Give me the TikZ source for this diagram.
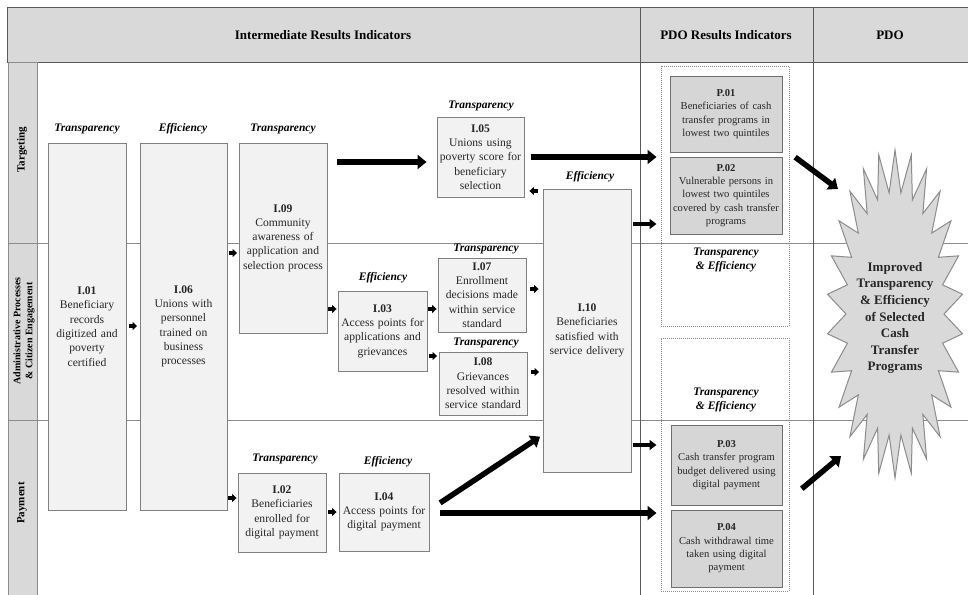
\documentclass[tikz,border=0pt]{standalone}
\usepackage{fontspec}
\setmainfont{Liberation Serif}
\usetikzlibrary{arrows.meta,calc}
\definecolor{hdr}{HTML}{D9D9D9}
\definecolor{boxfill}{HTML}{F2F2F2}
\definecolor{boxline}{HTML}{808080}
\definecolor{pfill}{HTML}{D6D6D6}
\definecolor{pline}{HTML}{6E6E6E}
\definecolor{gridc}{HTML}{8C8C8C}
\definecolor{darkc}{HTML}{5A5A5A}
\definecolor{textc}{HTML}{262626}
\begin{document}
\begin{tikzpicture}[x=1pt,y=-1pt,
  ibox/.style={draw=boxline, fill=boxfill, line width=0.9pt, inner sep=0.5pt, align=center, text=textc, font=\fontsize{11.6}{14.3}\selectfont},
  pbox/.style={draw=pline, fill=pfill, line width=1pt, inner sep=0.5pt, align=center, text=textc, font=\fontsize{10.6}{13.3}\selectfont},
  dbox/.style={draw=gridc, densely dotted, line width=1pt},
  cat/.style={font=\fontsize{11.5}{14}\selectfont\bfseries\itshape, align=center, inner sep=0pt},
  hdrtext/.style={font=\fontsize{13}{15}\selectfont\bfseries},
  rowtext/.style={rotate=90, align=center, font=\fontsize{11}{12}\selectfont\bfseries},
  sarr/.style={-{Triangle[length=4.5pt,width=8pt]}, line width=3.4pt, shorten <=#1, shorten >=#1},
  marr/.style={-{Triangle[length=7pt,width=10pt]}, line width=3.5pt},
  barr/.style={-{Triangle[length=9pt,width=14pt]}, line width=5.5pt},
  gridl/.style={draw=gridc, line width=0.9pt},
  divl/.style={draw=darkc, line width=1pt}]
\useasboundingbox (0,0) rectangle (968,594);
% header and grid
\fill[white] (0,0) rectangle (968,594);
\filldraw[fill=hdr, draw=darkc, line width=1pt] (7,8) rectangle (970,62);
\filldraw[fill=hdr, draw=gridc, line width=0.9pt] (8,62) rectangle (37,600);
\draw[gridl] (8,243) -- (970,243);
\draw[gridl] (8,420) -- (970,420);
\draw[divl] (640,8) -- (640,600);
\draw[divl] (813,8) -- (813,600);
\node[hdrtext] (h1) at (323,35) {Intermediate Results Indicators};
\node[hdrtext] (h2) at (726,35) {PDO Results Indicators};
\node[hdrtext] (h3) at (890,35) {PDO};
\node[rowtext] (r1) at (22,150) {Targeting};
\node[rowtext, font=\fontsize{10}{12}\selectfont\bfseries] (r2) at (24,331) {Administrative Processes\\\& Citizen Engagement};
\node[rowtext] (r3) at (22,503) {Payment};
% intermediate boxes
\node[ibox, minimum width=78pt, minimum height=367pt, text width=77pt] (i01) at (87,326.5) {\textbf{I.01}\\Beneficiary\\records\\digitized and\\poverty\\certified};
\node[ibox, minimum width=87pt, minimum height=367pt, text width=86pt] (i06) at (183.5,326.5) {\textbf{I.06}\\Unions with\\personnel\\trained on\\business\\processes};
\node[ibox, minimum width=88pt, minimum height=190pt, text width=87pt] (i09) at (283,238) {\textbf{I.09}\\Community\\awareness of\\application and\\selection process};
\node[ibox, minimum width=88pt, minimum height=79pt, text width=87pt] (i02) at (282,512.5) {\textbf{I.02}\\Beneficiaries\\enrolled for\\digital payment};
\node[ibox, minimum width=90pt, minimum height=78pt, text width=89pt] (i04) at (384,512) {\textbf{I.04}\\Access points for\\digital payment};
\node[ibox, minimum width=87pt, minimum height=80pt, text width=86pt] (i05) at (480.5,157) {\textbf{I.05}\\Unions using\\poverty score for\\beneficiary\\selection};
\node[ibox, minimum width=89pt, minimum height=80pt, text width=88pt] (i03) at (382.5,331) {\textbf{I.03}\\Access points for\\applications and\\grievances};
\node[ibox, minimum width=88pt, minimum height=74pt, text width=87pt] (i07) at (482,295) {\textbf{I.07}\\Enrollment\\decisions made\\within service\\standard};
\node[ibox, minimum width=88pt, minimum height=63pt, text width=87pt] (i08) at (483,383.5) {\textbf{I.08}\\Grievances\\resolved within\\service standard};
\node[ibox, minimum width=88pt, minimum height=283pt, text width=87pt] (i10) at (587,330.5) {\textbf{I.10}\\Beneficiaries\\satisfied with\\service delivery};
% category labels
\node[cat] (c01) at (87,129) {Transparency};
\node[cat] (c06) at (183,129) {Efficiency};
\node[cat] (c09) at (283,129) {Transparency};
\node[cat] (c05) at (481,106) {Transparency};
\node[cat] (c10) at (590,177) {Efficiency};
\node[cat] (c07) at (486,249) {Transparency};
\node[cat] (c03) at (383,278) {Efficiency};
\node[cat] (c08) at (486,343) {Transparency};
\node[cat] (c02) at (285,459) {Transparency};
\node[cat] (c04) at (388,462) {Efficiency};
% PDO result indicators
\node[dbox, minimum width=128pt, minimum height=260pt] (pg1) at (725,196) {};
\node[dbox, minimum width=128pt, minimum height=253pt] (pg2) at (725,464.5) {};
\node[pbox, minimum width=112pt, minimum height=76pt, text width=111pt] (p01) at (726,114) {\textbf{P.01}\\Beneficiaries of cash\\transfer programs in\\lowest two quintiles};
\node[pbox, minimum width=112pt, minimum height=77pt, text width=111pt] (p02) at (726,195.5) {\textbf{P.02}\\Vulnerable persons in\\lowest two quintiles\\covered by cash transfer\\programs};
\node[pbox, minimum width=111pt, minimum height=80pt, text width=110pt] (p03) at (726.5,465) {\textbf{P.03}\\Cash transfer program\\budget delivered using\\digital payment};
\node[pbox, minimum width=111pt, minimum height=77pt, text width=110pt] (p04) at (726.5,548.5) {\textbf{P.04}\\Cash withdrawal time\\taken using digital\\payment};
\node[cat] (te1) at (726,260) {Transparency\\\& Efficiency};
\node[cat] (te2) at (726,400) {Transparency\\\& Efficiency};
% PDO star
\filldraw[fill=hdr, draw=gridc, line width=1pt]
  plot[samples at={0,...,51}, variable=\i]
  ({895+ifthenelse(mod(\i,2)==0,68,49)*cos(90+\i*6.9230769)},
   {314-ifthenelse(mod(\i,2)==0,164,122)*sin(90+\i*6.9230769)}) -- cycle;
\node[font=\fontsize{13}{16.6}\selectfont\bfseries, align=center, text=textc] (pdo) at (895,318) {Improved\\Transparency\\\& Efficiency\\of Selected\\Cash\\Transfer\\Programs};
\coordinate (st1) at (838,189);
\coordinate (st2) at (841,456);
% small arrows
\draw[sarr=2.5pt] (i01.east |- 0,326) -- (i06.west |- 0,326);
\draw[sarr=1.5pt] (i06.east |- 0,253) -- (i09.west |- 0,253);
\draw[sarr=1pt] (i06.east |- 0,498) -- (i02.west |- 0,498);
\draw[sarr=2pt] (i02.east |- 0,512) -- (i04.west |- 0,512);
\draw[sarr=1pt] (i09.east |- 0,309) -- (i03.west |- 0,309);
\draw[sarr=1pt] (i03.east |- 0,309) -- (i07.west |- 0,309);
\draw[sarr=1.5pt] (i03.east |- 0,356) -- (i08.west |- 0,356);
\draw[sarr=4pt] (i07.east |- 0,289) -- (i10.west |- 0,289);
\draw[sarr=3.5pt] (i08.east |- 0,372) -- (i10.west |- 0,372);
\draw[sarr=5pt] (i10.west |- 0,191) -- (i05.east |- 0,191);
% medium arrows
\draw[marr, shorten <=2pt, shorten >=4pt] (i10.east |- 0,224) -- (pg1.west |- 0,224);
\draw[marr, shorten <=2pt, shorten >=4pt] (i10.east |- 0,445) -- (pg2.west |- 0,445);
% big arrows
\draw[barr, shorten <=10pt, shorten >=10pt] (i09.east |- 0,162) -- (i05.west |- 0,162);
\draw[barr, shorten <=7pt, shorten >=4pt] (i05.east |- 0,157) -- (pg1.west |- 0,157);
\draw[barr, shorten <=11pt, shorten >=4pt] (i04.east |- 0,513) -- (pg2.west |- 0,513);
\draw[barr, shorten <=12.8pt, shorten >=3pt] (i04.east |- 0,510) -- (i10.west |- 0,435);
\draw[barr, shorten <=7pt] (pg1.east |- 0,153) -- (st1);
\draw[barr, shorten <=16pt] (pg2.east |- 0,499) -- (st2);
\end{tikzpicture}
\end{document}
